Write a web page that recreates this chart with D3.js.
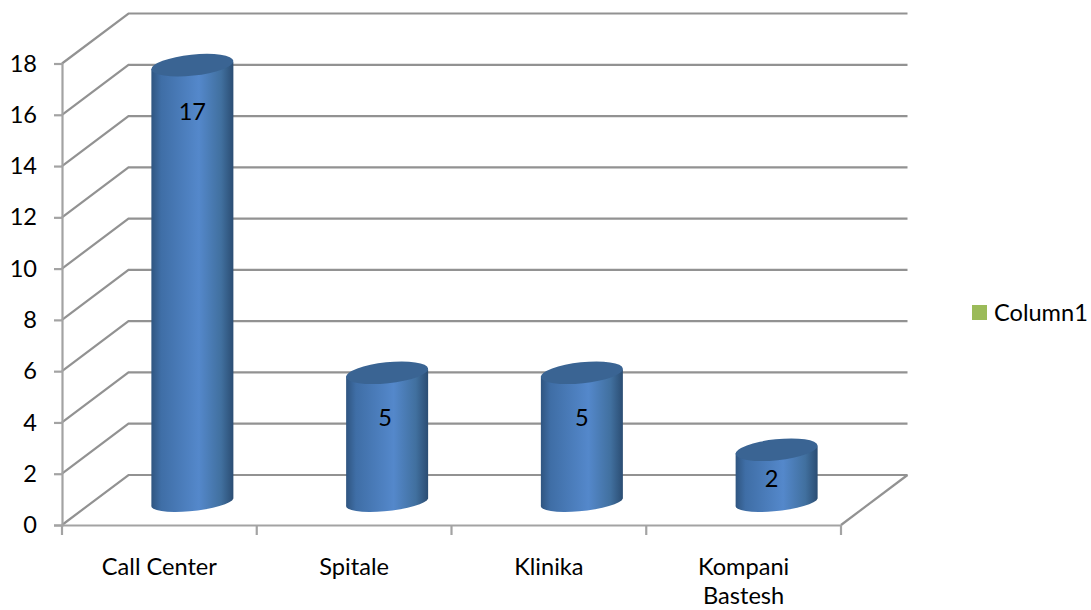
<!DOCTYPE html>
<html>
<head>
<meta charset="utf-8">
<script src="https://cdn.jsdelivr.net/npm/d3@7"></script>
<style>
  html, body { margin: 0; padding: 0; background: #fff; }
  text { font-family: Lato, "Open Sans", sans-serif; fill: #000; }
</style>
</head>
<body>
<div id="chart"></div>
<script>
const categories = ["Call Center", "Spitale", "Klinika", "Kompani Bastesh"];
const values = [17, 5, 5, 2];
const yTicks = [0, 2, 4, 6, 8, 10, 12, 14, 16, 18];
const legendLabel = "Column1";

const width = 1091, height = 610;
const plotLeft = 62, plotRight = 841, plotBottom = 525, plotTop = 63.5;
const depthX = 66.5, depthY = -50;    // offset of the back wall
const gridColor = "#929292", axisColor = "#a3a3a3";
const fontSize = "23.6px";

const svg = d3.select("#chart").append("svg")
    .attr("width", width)
    .attr("height", height)
    .style("display", "block");

const x = d3.scaleBand().domain(categories).range([plotLeft, plotRight]);
const y = d3.scaleLinear().domain([0, 18]).range([plotBottom, plotTop]);

// Horizontal shading of the cylinders
const grad = svg.append("defs").append("linearGradient")
    .attr("id", "cyl")
    .attr("x1", "0").attr("x2", "1").attr("y1", "0").attr("y2", "0");
[[0, "#2f5580"], [0.12, "#3f6ea6"], [0.58, "#5488cb"], [0.85, "#41709f"], [1, "#2b4d73"]].forEach(s => {
    grad.append("stop").attr("offset", s[0]).attr("stop-color", s[1]);
});

// Back wall and side wall gridlines
const grid = svg.append("g")
    .attr("fill", "none")
    .attr("stroke", gridColor)
    .attr("stroke-width", 2.2);

yTicks.forEach(t => {
    grid.append("polyline")
        .attr("points", [
            [plotLeft, y(t)],
            [plotLeft + depthX, y(t) + depthY],
            [plotRight + depthX, y(t) + depthY]
        ].join(" "));
});

// Floor: right edge
grid.append("line")
    .attr("x1", plotRight + depthX).attr("y1", y(0) + depthY)
    .attr("x2", plotRight).attr("y2", y(0));

// Value axis
const yAxis = d3.axisLeft(y).tickValues(yTicks).tickSize(8).tickPadding(17);
const yG = svg.append("g").attr("transform", `translate(${plotLeft},0)`).call(yAxis);
yG.selectAll("line, path").attr("stroke", axisColor).attr("stroke-width", 2.2);
yG.selectAll("text").style("font-size", fontSize);

// Category axis, ticks sit on the band edges
const xAxis = d3.axisBottom(x).tickSize(0).tickPadding(0).tickFormat("");
const xG = svg.append("g").attr("transform", `translate(0,${plotBottom})`).call(xAxis);
xG.selectAll("path").attr("stroke", axisColor).attr("stroke-width", 2.2);
[plotLeft].concat(categories.map(c => x(c) + x.bandwidth())).forEach(edge => {
    xG.append("line")
        .attr("x1", edge).attr("x2", edge)
        .attr("y1", 0).attr("y2", 10)
        .attr("stroke", axisColor)
        .attr("stroke-width", 2.2);
});

// Long category names wrap on two lines
categories.forEach(c => {
    const lines = c.length > 11 ? c.split(" ") : [c];
    const label = svg.append("text")
        .attr("text-anchor", "middle")
        .style("font-size", fontSize);
    lines.forEach((w, i) => {
        label.append("tspan")
            .attr("x", x(c) + x.bandwidth() / 2)
            .attr("y", 575 + i * 29)
            .text(w);
    });
});

// Cylinders
const barShift = 33, baseShift = -23;
const halfW = 41, edgeTilt = 3.5, rx = 41.2, ry = 10.5, baseRy = 9, tilt = -6;
const labelDx = [0, -2, 0, -5];       // hand placed labels, as in the original
const labelDy = [55, 53, 53, 37];     // label baseline below the top ellipse centre

const bars = svg.append("g");
categories.forEach((c, i) => {
    const cx = x(c) + x.bandwidth() / 2 + barShift;
    const cyTop = y(values[i]) + baseShift - 1;
    const cyBase = y(0) + baseShift;
    const d = `M${cx - halfW},${cyTop + edgeTilt}` +
        `L${cx - halfW},${cyBase + edgeTilt}` +
        `A${rx},${baseRy} ${tilt} 0 0 ${cx + halfW},${cyBase - edgeTilt}` +
        `L${cx + halfW},${cyTop - edgeTilt}Z`;
    bars.append("path").attr("d", d).attr("fill", "url(#cyl)");
    bars.append("ellipse")
        .attr("rx", rx)
        .attr("ry", ry)
        .attr("transform", `translate(${cx},${cyTop}) rotate(${tilt})`)
        .attr("fill", "#3a6493");
    bars.append("text")
        .attr("x", cx + labelDx[i])
        .attr("y", cyTop + labelDy[i])
        .attr("text-anchor", "middle")
        .style("font-size", fontSize)
        .text(values[i]);
});

// Legend
svg.append("rect")
    .attr("x", 972).attr("y", 305)
    .attr("width", 15).attr("height", 15)
    .attr("fill", "#9bbb59");
svg.append("text")
    .attr("x", 994).attr("y", 321)
    .style("font-size", fontSize)
    .text(legendLabel);
</script>
</body>
</html>
